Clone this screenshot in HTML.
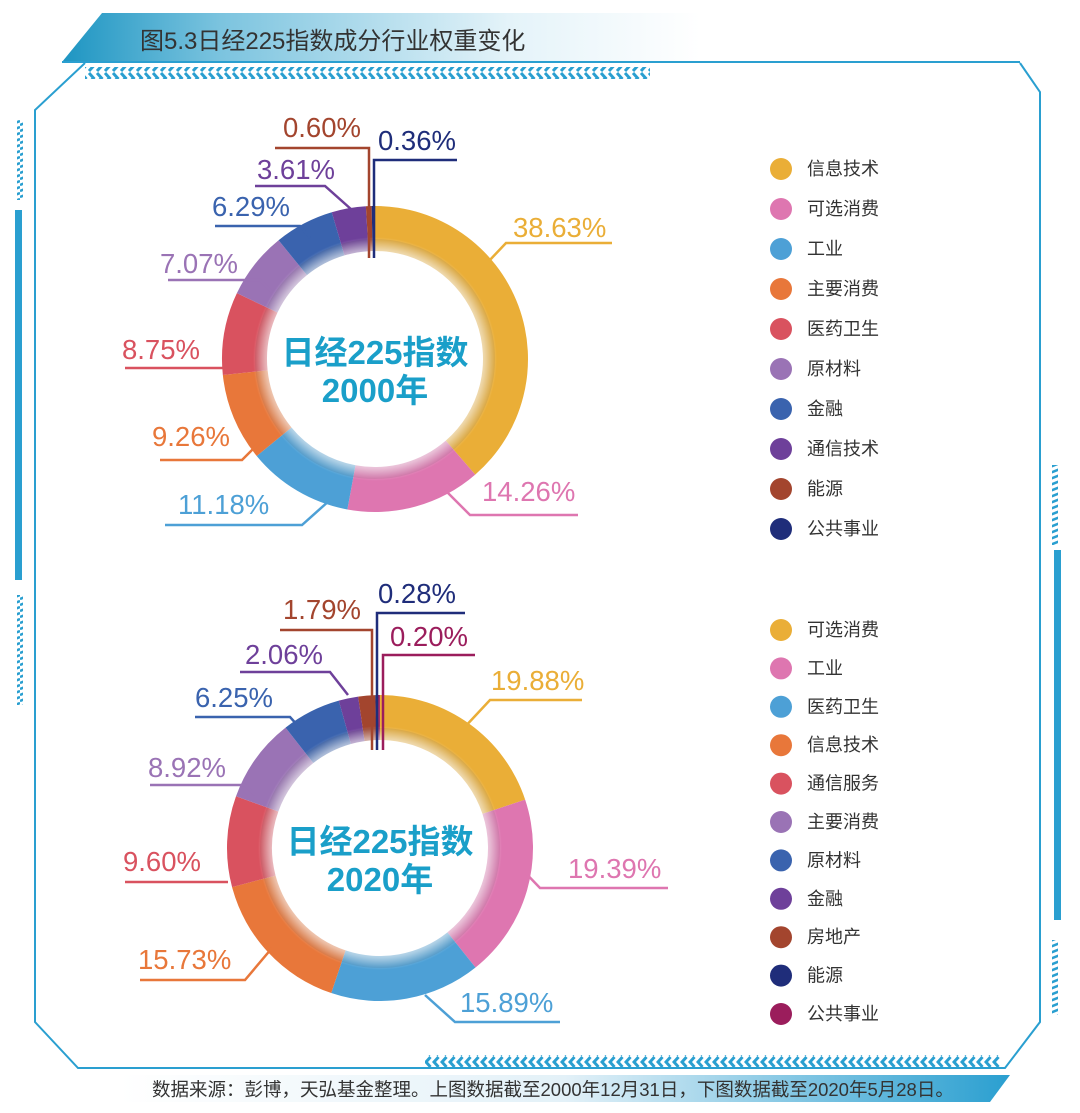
<!DOCTYPE html>
<html><head><meta charset="utf-8">
<style>
html,body{margin:0;padding:0;background:#fff;}
body{width:1080px;height:1108px;overflow:hidden;font-family:"Liberation Sans","Noto Sans CJK SC",sans-serif;}
svg text{font-family:"Liberation Sans","Noto Sans CJK SC",sans-serif;}
</style></head>
<body>
<svg id="s" width="1080" height="1108" viewBox="0 0 1080 1108" xmlns="http://www.w3.org/2000/svg">
<defs>
<linearGradient id="ban" x1="0" x2="1" y1="0" y2="0">
<stop offset="0" stop-color="#1d95c2"/><stop offset="0.25" stop-color="#7cc4df"/><stop offset="0.7" stop-color="#e4f3f9"/><stop offset="1" stop-color="#ffffff"/>
</linearGradient>
<linearGradient id="foot" x1="0" x2="1" y1="0" y2="0">
<stop offset="0" stop-color="#ffffff"/><stop offset="0.5" stop-color="#e3f1f8"/><stop offset="1" stop-color="#2a9fd0"/>
</linearGradient>
<radialGradient id="hole">
<stop offset="0" stop-color="#fff"/><stop offset="0.78" stop-color="#fff"/><stop offset="0.9" stop-color="#fff" stop-opacity="0.55"/><stop offset="1" stop-color="#fff" stop-opacity="0"/>
</radialGradient>
<pattern id="chev" width="8" height="12" patternUnits="userSpaceOnUse">
<path d="M1 1 L5.5 6 L1 11" stroke="#2a9fd0" stroke-width="3" fill="none"/>
</pattern>
<pattern id="chevL" width="8" height="12" patternUnits="userSpaceOnUse">
<path d="M6.5 1 L2 6 L6.5 11" stroke="#2a9fd0" stroke-width="3" fill="none"/>
</pattern>
<pattern id="hatch" width="10" height="6" patternUnits="userSpaceOnUse">
<path d="M0 5 L10 1" stroke="#2a9fd0" stroke-width="2.5"/>
</pattern>
</defs>
<polygon points="102,13 700,13 700,62 62,62" fill="url(#ban)"/>
<line x1="62" y1="62" x2="1020" y2="62" stroke="#2a9fd0" stroke-width="2"/>
<text x="140" y="49" font-size="24" fill="#333">图5.3日经225指数成分行业权重变化</text>
<rect x="85" y="67" width="565" height="12" fill="url(#chev)"/>
<polyline points="85,63 35,110 35,1022 78,1068 1005,1068 1040,1022 1040,92 1020,63" fill="none" stroke="#2a9fd0" stroke-width="2"/>
<rect x="425" y="1055" width="575" height="12" fill="url(#chevL)"/>
<rect x="15" y="210" width="7" height="370" fill="#2a9fd0"/>
<rect x="17" y="120" width="6" height="80" fill="url(#hatch)"/>
<rect x="17" y="595" width="6" height="110" fill="url(#hatch)"/>
<rect x="1054" y="550" width="7" height="370" fill="#2a9fd0"/>
<rect x="1052" y="465" width="6" height="80" fill="url(#hatch)"/>
<rect x="1052" y="940" width="6" height="75" fill="url(#hatch)"/>
<polygon points="120,1075 1010,1075 990,1102 120,1102" fill="url(#foot)"/>
<text x="152" y="1096" font-size="18.5" fill="#333">数据来源：彭博，天弘基金整理。上图数据截至2000年12月31日，下图数据截至2020年5月28日。</text>
<g id="charts"></g>
</svg>
<script>
var C={y:"#EAAE37",p:"#DE76B0",lb:"#4DA0D6",o:"#E8773A",r:"#D9525F",lp:"#9A73B5",b:"#3A63AE",pu:"#6E409A",br:"#A3452E",n:"#1F2D7A",m:"#9B1D5C"};
var g=document.getElementById('charts'),NS="http://www.w3.org/2000/svg";
function el(t,a,txt){var e=document.createElementNS(NS,t);for(var k in a)e.setAttribute(k,a[k]);if(txt)e.textContent=txt;g.appendChild(e);return e;}
function donut(cx,cy,R,r,data){var a=0;data.forEach(function(d){var a0=a/100*2*Math.PI,a1=(a+d[0])/100*2*Math.PI;a+=d[0];
var p=function(ang,rad){return [cx+rad*Math.sin(ang),cy-rad*Math.cos(ang)];};
var A=p(a0,R),B=p(a1,R),Cc=p(a1,r),D=p(a0,r),lg=(a1-a0)>Math.PI?1:0;
el('path',{d:'M'+A+' A'+R+','+R+' 0 '+lg+' 1 '+B+' L'+Cc+' A'+r+','+r+' 0 '+lg+' 0 '+D+'Z',fill:C[d[1]]});});
el('circle',{cx:cx,cy:cy,r:r+6,fill:'none',stroke:'#000','stroke-opacity':0.08,'stroke-width':12});
el('circle',{cx:cx,cy:cy,r:r+14,fill:'url(#hole)'});}
function lab(t,col,tx,ty,pts){el('polyline',{points:pts,fill:'none',stroke:col,'stroke-width':2.5});el('text',{x:tx,y:ty,'font-size':27.5,fill:col},t);}
donut(375,359,153,108,[[38.63,'y'],[14.26,'p'],[11.18,'lb'],[9.26,'o'],[8.75,'r'],[7.07,'lp'],[6.29,'b'],[3.61,'pu'],[0.60,'br'],[0.36,'n']]);
donut(380,848,153,108,[[19.88,'y'],[19.39,'p'],[15.89,'lb'],[15.73,'o'],[9.60,'r'],[8.92,'lp'],[6.25,'b'],[2.06,'pu'],[1.79,'br'],[0.28,'n'],[0.20,'m']]);
lab('38.63%',C.y,513,237,'488,262 506,243 612,243');
lab('14.26%',C.p,482,501,'445,490 470,515 578,515');
lab('11.18%',C.lb,178,514,'330,500 302,525 165,525');
lab('9.26%',C.o,152,446,'262,440 242,460 160,460');
lab('8.75%',C.r,122,359,'225,368 125,368');
lab('7.07%',C.lp,160,273,'272,292 260,280 168,280');
lab('6.29%',C.b,212,216,'310,238 300,226 215,226');
lab('3.61%',C.pu,257,179,'352,210 325,186 255,186');
lab('0.60%',C.br,283,137,'369,258 369,148 275,148');
lab('0.36%',C.n,378,150,'374,258 374,160 457,160');
lab('19.88%',C.y,491,690,'462,730 490,700 582,700');
lab('19.39%',C.p,568,878,'515,862 540,888 668,888');
lab('15.89%',C.lb,460,1012,'425,995 455,1022 560,1022');
lab('15.73%',C.o,138,969,'272,948 245,980 140,980');
lab('9.60%',C.r,123,871,'228,882 125,882');
lab('8.92%',C.lp,148,777,'255,795 245,785 150,785');
lab('6.25%',C.b,195,707,'300,728 290,717 195,717');
lab('2.06%',C.pu,245,664,'348,695 330,672 240,672');
lab('1.79%',C.br,283,619,'372,750 372,630 280,630');
lab('0.28%',C.n,378,603,'377,750 377,613 465,613');
lab('0.20%',C.m,390,646,'383,750 383,655 475,655');
function center(cx,cy,y2){
el('text',{x:cx,y:cy,'font-size':33,'font-weight':'bold',fill:'#1a9fc9','text-anchor':'middle'},'日经225指数');
el('text',{x:cx,y:cy+38,'font-size':33,'font-weight':'bold',fill:'#1a9fc9','text-anchor':'middle'},y2);}
center(375,364,'2000年');
center(380,853,'2020年');
function legend(y0,st,items){items.forEach(function(it,i){var y=y0+i*st;el('circle',{cx:781,cy:y,r:11,fill:C[it[1]]});el('text',{x:807,y:y+6,'font-size':18,fill:'#333'},it[0]);});}
legend(169,40,[['信息技术','y'],['可选消费','p'],['工业','lb'],['主要消费','o'],['医药卫生','r'],['原材料','lp'],['金融','b'],['通信技术','pu'],['能源','br'],['公共事业','n']]);
legend(630,38.4,[['可选消费','y'],['工业','p'],['医药卫生','lb'],['信息技术','o'],['通信服务','r'],['主要消费','lp'],['原材料','b'],['金融','pu'],['房地产','br'],['能源','n'],['公共事业','m']]);
</script>
</body></html>
